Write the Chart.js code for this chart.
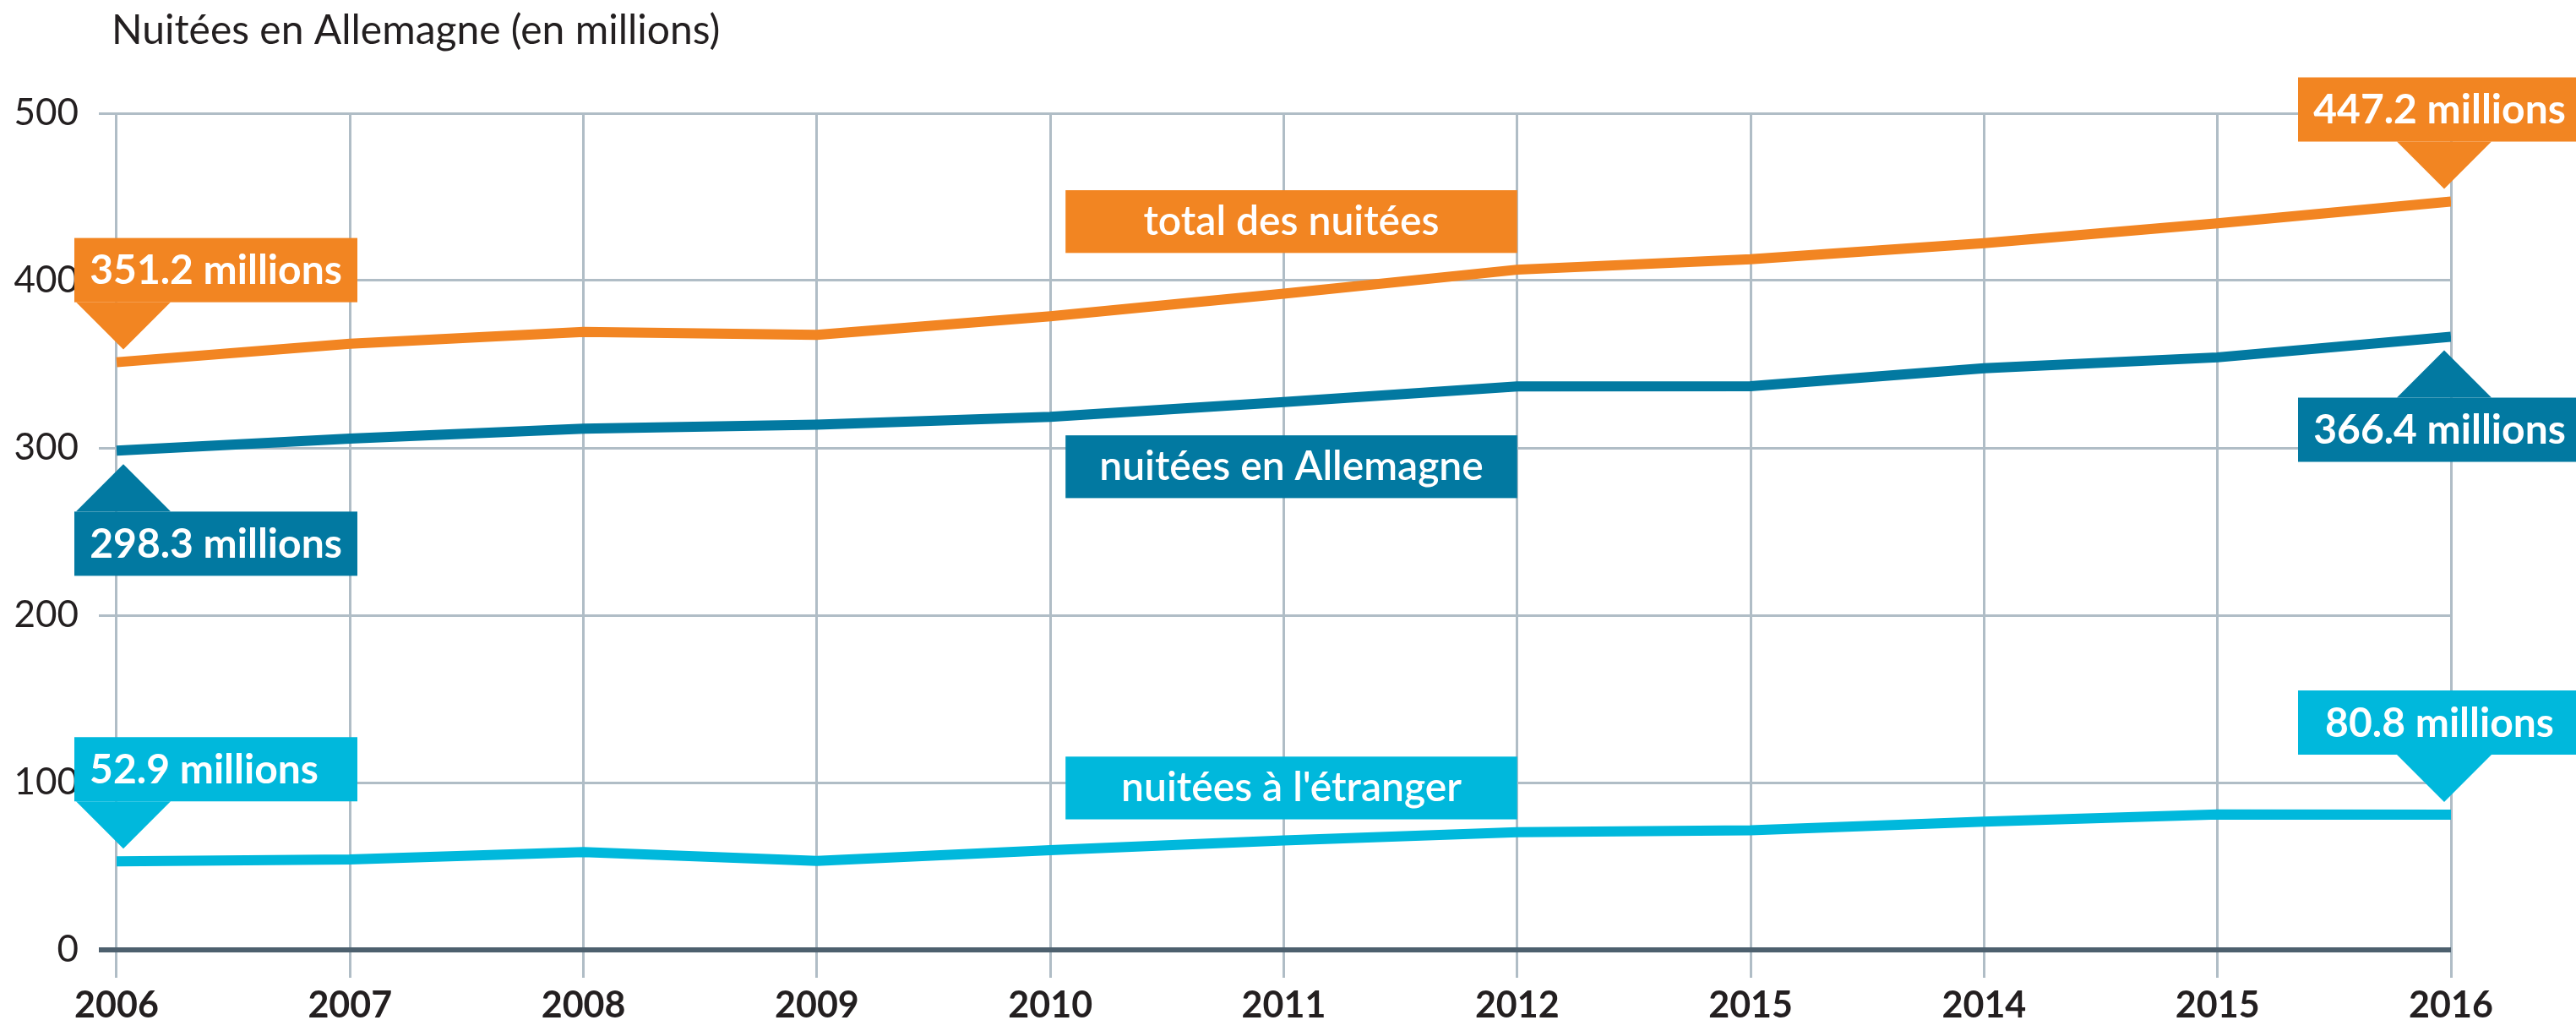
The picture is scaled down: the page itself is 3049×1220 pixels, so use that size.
<!DOCTYPE html>
<html>
<head>
<meta charset="utf-8">
<script src="https://cdn.jsdelivr.net/npm/chart.js@4.4.1/dist/chart.umd.min.js"></script>
<style>
    html, body { margin: 0; padding: 0; background: #fff; }
    #wrap { position: relative; width: 3049px; height: 1220px; }
</style>
</head>
<body>
<div id="wrap"><canvas id="nightsChart"></canvas></div>
<script>
// values (millions of nights)
const years = ['2006', '2007', '2008', '2009', '2010', '2011', '2012', '2015', '2014', '2015', '2016'];
const totalNights = [351.2, 362.2, 369.3, 367.6, 378.7, 392.2, 406.5, 412.8, 422.4, 434.2, 447.2];
const domesticNights = [298.3, 305.5, 311.5, 313.9, 318.6, 327.4, 336.7, 336.9, 347.6, 354.1, 366.4];
const abroadNights = [52.9, 54.0, 58.5, 53.2, 59.6, 65.4, 70.3, 71.5, 76.6, 80.9, 80.8];
const yTicks = [0, 100, 200, 300, 400, 500];
const seriesNames = ['total des nuitées', 'nuitées en Allemagne', "nuitées à l'étranger"];
const chartTitle = 'Nuitées en Allemagne (en millions)';

const colors = ['#f28522', '#0279a1', '#00b8dc'];
const gridColor = '#b0bdc6';
const baseColor = '#4d606e';
const textColor = '#231f20';
const fontFamily = 'Lato, "Noto Sans", sans-serif';

// value boxes with a pointer, anchored on the first / last point of each series
const callouts = [
    { ds: 0, idx: 0, side: 'left', dir: 'down', shift: 0 },
    { ds: 1, idx: 0, side: 'left', dir: 'up', shift: 0 },
    { ds: 2, idx: 0, side: 'left', dir: 'down', shift: -14 },
    { ds: 0, idx: 10, side: 'right', dir: 'down', shift: 0 },
    { ds: 1, idx: 10, side: 'right', dir: 'up', shift: 0 },
    { ds: 2, idx: 10, side: 'right', dir: 'down', shift: 0 }
];

// series name boxes: from 2010 to 2012, vertical span in axis units
const nameBoxes = [
    { ds: 0, top: 454, bottom: 416.5 },
    { ds: 1, top: 307.5, bottom: 270 },
    { ds: 2, top: 115.5, bottom: 78 }
];

const labelPlugin = {
    id: 'labelPlugin',
    afterDraw(chart) {
        const ctx = chart.ctx;
        const xScale = chart.scales.x;
        const yScale = chart.scales.y;
        ctx.save();

        // title
        ctx.fillStyle = textColor;
        ctx.font = '48px ' + fontFamily;
        ctx.textAlign = 'left';
        ctx.textBaseline = 'alphabetic';
        ctx.fillText(chartTitle, 132, 52);

        // series name boxes
        nameBoxes.forEach(b => {
            const x1 = xScale.getPixelForValue(4) + 18;
            const x2 = xScale.getPixelForValue(6);
            const y1 = yScale.getPixelForValue(b.top);
            const y2 = yScale.getPixelForValue(b.bottom);
            ctx.fillStyle = colors[b.ds];
            ctx.fillRect(x1, y1, x2 - x1, y2 - y1);
            ctx.fillStyle = '#fff';
            ctx.font = '600 48px ' + fontFamily;
            ctx.textAlign = 'center';
            ctx.textBaseline = 'middle';
            ctx.fillText(seriesNames[b.ds], (x1 + x2) / 2, (y1 + y2) / 2);
        });

        // value callouts
        const boxW = 335, boxH = 76, triHalf = 56, triH = 56;
        callouts.forEach(c => {
            const pt = chart.getDatasetMeta(c.ds).data[c.idx];
            const value = chart.data.datasets[c.ds].data[c.idx];
            const ax = pt.x + (c.side === 'left' ? 8 : -8);
            const ay = pt.y + (c.dir === 'down' ? -15 : 16);
            const baseY = c.dir === 'down' ? ay - triH : ay + triH;
            const boxLeft = c.side === 'left' ? ax - 58 : ax - 173;
            const boxTop = c.dir === 'down' ? baseY - boxH : baseY;

            ctx.fillStyle = colors[c.ds];
            ctx.beginPath();
            ctx.moveTo(ax - triHalf, baseY);
            ctx.lineTo(ax + triHalf, baseY);
            ctx.lineTo(ax, ay);
            ctx.closePath();
            ctx.fill();
            ctx.fillRect(boxLeft, boxTop, boxW, boxH);

            ctx.fillStyle = '#fff';
            ctx.font = 'bold 48px ' + fontFamily;
            ctx.textAlign = 'center';
            ctx.textBaseline = 'middle';
            ctx.fillText(value.toFixed(1) + ' millions', boxLeft + boxW / 2 + c.shift, boxTop + boxH / 2 + 1);
        });

        ctx.restore();
    }
};

function makeDataset(label, data, color) {
    return {
        label: label,
        data: data,
        borderColor: color,
        backgroundColor: color,
        borderWidth: 12,
        pointRadius: 0,
        pointHoverRadius: 0,
        tension: 0,
        fill: false
    };
}

const ctx = document.getElementById('nightsChart').getContext('2d');
const chart = new Chart(ctx, {
    type: 'line',
    data: {
        labels: years.map((y, i) => i),
        datasets: [
            makeDataset(seriesNames[0], totalNights, colors[0]),
            makeDataset(seriesNames[1], domesticNights, colors[1]),
            makeDataset(seriesNames[2], abroadNights, colors[2])
        ]
    },
    options: {
        responsive: true,
        maintainAspectRatio: false,
        animation: false,
        layout: {
            padding: { top: 134, right: 148, left: 0, bottom: 0 }
        },
        plugins: {
            legend: { display: false },
            tooltip: { enabled: false },
            title: { display: false }
        },
        scales: {
            x: {
                type: 'linear',
                min: -0.076,
                max: 10,
                afterBuildTicks: axis => {
                    axis.ticks = years.map((y, i) => ({ value: i }));
                },
                afterFit: scale => { scale.height = 96; },
                border: { display: false },
                grid: {
                    color: gridColor,
                    lineWidth: 3,
                    drawTicks: true,
                    tickLength: 33,
                    tickColor: gridColor,
                    tickWidth: 3
                },
                ticks: {
                    autoSkip: false,
                    maxRotation: 0,
                    padding: 7,
                    color: textColor,
                    font: { family: fontFamily, size: 43, weight: 'bold' },
                    callback: value => years[value]
                }
            },
            y: {
                min: 0,
                max: 500,
                afterBuildTicks: axis => {
                    axis.ticks = yTicks.map(v => ({ value: v }));
                },
                afterFit: scale => { scale.width = 117; },
                border: { display: false },
                grid: {
                    drawTicks: false,
                    color: c => (c.tick && c.tick.value === 0 ? baseColor : gridColor),
                    lineWidth: c => (c.tick && c.tick.value === 0 ? 6 : 3)
                },
                ticks: {
                    padding: 24,
                    color: textColor,
                    font: { family: fontFamily, size: 44 }
                }
            }
        }
    },
    plugins: [labelPlugin]
});
</script>
</body>
</html>
